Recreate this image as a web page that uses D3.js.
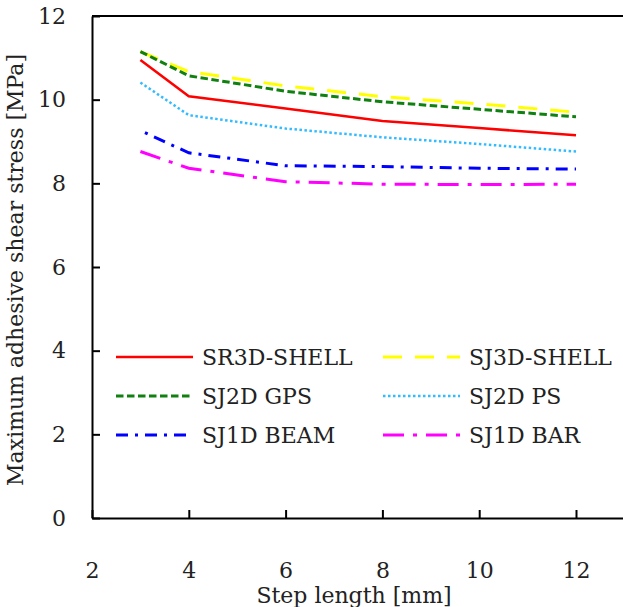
<!DOCTYPE html>
<html>
<head>
<meta charset="utf-8">
<script src="https://cdn.jsdelivr.net/npm/d3@7"></script>
<style>
  body { margin: 0; background: #fff; }
  svg { display: block; font-family: "DejaVu Serif", serif; }
  text { fill: #222; }
</style>
</head>
<body>
<svg width="623" height="607"></svg>
<script>
const steps = [3, 4, 6, 8, 10, 12];
const sr3dShell = [10.95, 10.08, 9.79, 9.49, 9.32, 9.15];
const sj3dShell = [11.15, 10.67, 10.33, 10.07, 9.90, 9.70];
const sj2dGps = [11.15, 10.57, 10.20, 9.95, 9.77, 9.59];
const sj2dPs = [10.41, 9.63, 9.31, 9.10, 8.94, 8.76];
const sj1dBeam = [9.26, 8.73, 8.42, 8.40, 8.36, 8.34];
const sj1dBar = [8.76, 8.36, 8.04, 7.98, 7.97, 7.98];
const seriesNames = ['SR3D-SHELL', 'SJ3D-SHELL', 'SJ2D GPS', 'SJ2D PS', 'SJ1D BEAM', 'SJ1D BAR'];
const xTicks = [2, 4, 6, 8, 10, 12];
const yTicks = [0, 2, 4, 6, 8, 10, 12];

const styles = [
  {color: '#ff0000', dash: null, width: 2.5},
  {color: '#ffff00', dash: '19,13', width: 3},
  {color: '#108010', dash: '7.5,3.5', width: 3},
  {color: '#33bbff', dash: '2.5,2.5', width: 2.5},
  {color: '#0000ff', dash: '12,7,3,7', width: 3, offset: 14},
  {color: '#ff00ff', dash: '21,9,4,9', width: 3}
];

const series = [sr3dShell, sj3dShell, sj2dGps, sj2dPs, sj1dBeam, sj1dBar]
  .map((vals, i) => ({name: seriesNames[i], style: styles[i], points: steps.map((s, j) => [s, vals[j]])}));

const plot = {left: 92, top: 16, bottom: 518};
const xScale = d3.scaleLinear().domain([2, 13]).range([plot.left, plot.left + 11 * 48.4]);
const yScale = d3.scaleLinear().domain([0, 12]).range([plot.bottom, plot.top]);

const svg = d3.select('svg');

// frame: top border line
svg.append('line')
  .attr('x1', plot.left).attr('x2', 623)
  .attr('y1', plot.top).attr('y2', plot.top)
  .attr('stroke', '#000').attr('stroke-width', 2);

const xAxis = svg.append('g')
  .attr('transform', `translate(0, ${plot.bottom})`)
  .call(d3.axisBottom(xScale).tickValues(xTicks).tickSize(-8).tickSizeOuter(0).tickPadding(44));
const yAxis = svg.append('g')
  .attr('transform', `translate(${plot.left}, 0)`)
  .call(d3.axisLeft(yScale).tickValues(yTicks).tickSize(-8).tickSizeOuter(0).tickPadding(26));

[xAxis, yAxis].forEach(ax => {
  ax.select('.domain').attr('stroke', '#000').attr('stroke-width', 2);
  ax.selectAll('.tick line').attr('stroke', '#000').attr('stroke-width', 2);
  ax.selectAll('.tick text').attr('fill', '#222')
    .style('font-family', '"DejaVu Serif", serif').style('font-size', '22px');
});

const line = d3.line().x(d => xScale(d[0])).y(d => yScale(d[1]));

svg.selectAll('.series')
  .data(series)
  .enter()
  .append('path')
  .classed('series', true)
  .attr('d', d => line(d.points))
  .attr('fill', 'none')
  .attr('stroke', d => d.style.color)
  .attr('stroke-width', d => d.style.width)
  .attr('stroke-dasharray', d => d.style.dash)
  .attr('stroke-dashoffset', d => d.style.offset || 0);

// legend
const legend = svg.append('g');
const legendItems = legend.selectAll('g')
  .data(series)
  .enter()
  .append('g')
  .attr('transform', (d, i) => `translate(${i % 2 === 0 ? 116 : 383}, ${357 + Math.floor(i / 2) * 39})`);

legendItems.append('line')
  .attr('x1', 0).attr('x2', 77)
  .attr('stroke', d => d.style.color)
  .attr('stroke-width', d => d.style.width)
  .attr('stroke-dasharray', d => d.style.dash);

legendItems.append('text')
  .attr('x', 86)
  .attr('dy', '0.36em')
  .style('font-size', '22px')
  .text(d => d.name);

svg.append('text')
  .attr('x', 354).attr('y', 603)
  .attr('text-anchor', 'middle')
  .style('font-size', '22px')
  .text('Step length [mm]');

svg.append('text')
  .attr('transform', 'translate(23, 270) rotate(-90)')
  .attr('text-anchor', 'middle')
  .style('font-size', '22px')
  .text('Maximum adhesive shear stress [MPa]');
</script>
</body>
</html>
